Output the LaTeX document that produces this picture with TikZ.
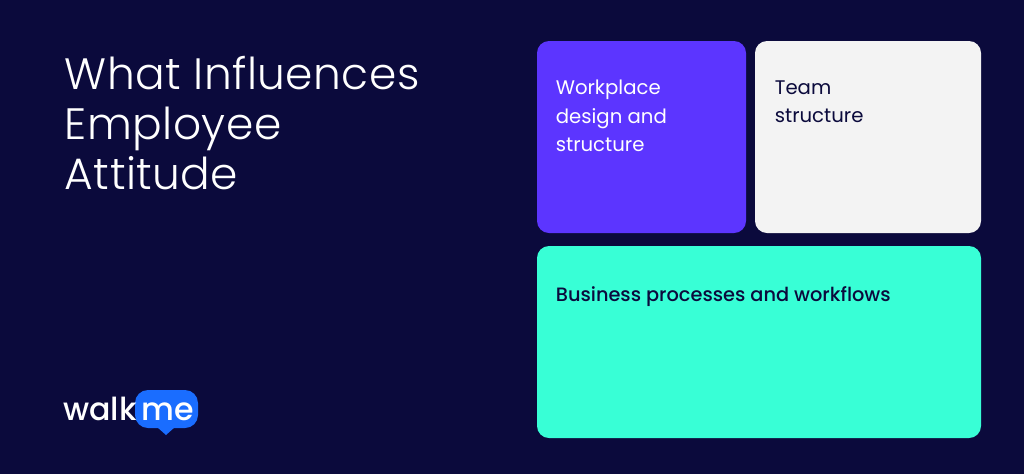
\documentclass[tikz,border=0pt]{standalone}
\usepackage{fontspec}
\setmainfont{Poppins}
\newfontfamily\lightfont{Poppins Light}
\newfontfamily\mediumfont{Poppins Medium}
\definecolor{navybg}{HTML}{0B0A3C}
\definecolor{violetcard}{HTML}{5C35FF}
\definecolor{greycard}{HTML}{F3F3F3}
\definecolor{mintcard}{HTML}{38FFD6}
\definecolor{logoblue}{HTML}{1A6DFF}
\tikzset{
  cardbox/.style={rounded corners=2.4mm},
  cardtext/.style={anchor=north west, align=left, inner sep=0pt, font=\fontsize{11.2}{16}\selectfont},
}
\begin{document}
\begin{tikzpicture}[x=0.02cm, y=-0.02cm]
    \useasboundingbox (0,0) rectangle (1024,474);
    \fill [navybg] (0,0) rectangle (1024,474);
    \node (title) [anchor=north west, align=left, inner sep=0pt, text=white, font=\fontsize{25}{28.3}\lightfont\addfontfeature{LetterSpace=1}\selectfont] at (64.5,56) {What Influences\\Employee\\Attitude};
    \fill [cardbox, violetcard] (537,41) rectangle (746,233);
    \fill [cardbox, greycard] (755,41) rectangle (981,233);
    \fill [cardbox, mintcard] (537,246) rectangle (981,438);
    \node (workplace) [cardtext, text=white] at (555.5,80) {Workplace\\design and\\structure};
    \node (team) [cardtext, text=navybg] at (774.5,80) {Team\\structure};
    \node (business) [cardtext, text=navybg, font=\fontsize{11}{16}\mediumfont\selectfont] at (555.5,286) {Business processes and workflows};
    \fill [logoblue, rounded corners=2.6mm] (135,390) rectangle (198,428);
    \fill [logoblue] (157,427) -- (166,435) -- (175,427) -- cycle;
    \node (walk) [anchor=base west, inner sep=0pt, text=white, font=\fontsize{18}{18}\mediumfont\selectfont] at (63,420) {walk};
    \node (me) [anchor=base west, inner sep=0pt, text=white, font=\fontsize{18}{18}\mediumfont\selectfont] at (141,420) {me};
  \end{tikzpicture}
\end{document}
